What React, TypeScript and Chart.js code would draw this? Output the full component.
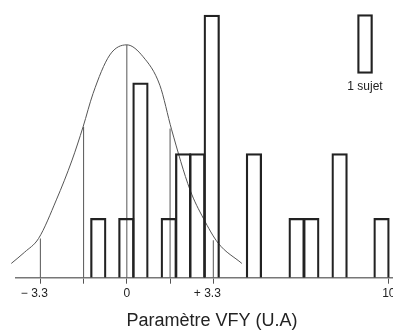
import React, { useEffect, useRef } from "react";
import { Chart, registerables } from "chart.js";

Chart.register(...registerables);

// Histogram bins: centres (U.A) and heights (in "sujet" units as drawn)
const binCenters = [-1.09, -0.02, 0.52, 1.6, 2.15, 2.69, 3.24, 4.85, 6.48, 7.04, 8.12, 9.72];
const binCounts = [1, 1, 3.28, 1, 2.09, 2.09, 4.42, 2.09, 1, 1, 2.09, 1];

// Reference normal curve
const curveX = [-4.41, -3.9, -3.37, -2.69, -2.09, -1.67, -1.29, -0.65, 0, 0.62, 1.26, 1.71, 2.41, 2.92, 3.49, 4.39];
const curveY = [0.24, 0.43, 0.66, 1.31, 1.98, 2.54, 3.1, 3.75, 3.92, 3.72, 3.24, 2.49, 1.48, 1.0, 0.58, 0.24];

// Vertical reference lines (mean, ±1.65, ±3.3) and their top on the curve
const refX = [-3.3, -1.65, 0, 1.65, 3.3];
const refTop = [0.66, 2.54, 3.92, 2.51, 0.63];

// Axis ticks
const tickValues = [-3.3, -1.65, 0, 1.65, 3.3, 10];
const tickLabels = ["\u2212 3.3\u2003", "", "0", "", "+ 3.3\u2003", "10"];

// Scale key box: "1 sujet"
const keyX = 9.09;
const keyRange = [3.44, 4.43];
const keyLabel = "1 sujet";

const xTitle = "Paramètre VFY (U.A)";

export default function App() {
  const ref = useRef<HTMLCanvasElement | null>(null);

  useEffect(() => {
    if (!ref.current) return;
    document.body.style.margin = "0";
    Chart.defaults.font.family = "'Liberation Sans', Arial, Helvetica, sans-serif";

    const keyPlugin = {
      id: "keyLabel",
      afterDatasetsDraw(chart: any) {
        const { ctx, scales } = chart;
        const x = scales.x.getPixelForValue(keyX);
        const y = scales.y.getPixelForValue(keyRange[0]);
        ctx.save();
        ctx.fillStyle = "#222";
        ctx.font = "12px 'Liberation Sans', Arial, sans-serif";
        ctx.textAlign = "center";
        ctx.textBaseline = "alphabetic";
        ctx.fillText(keyLabel, x, y + 17);
        ctx.restore();
      },
    };

    const refDatasets = refX.map((x, i) => ({
      type: "line" as const,
      data: [
        { x, y: 0 },
        { x, y: refTop[i] },
      ],
      borderColor: "#555",
      borderWidth: 1,
      pointRadius: 0,
      fill: false,
      order: 3,
    }));

    const chart = new Chart(ref.current, {
      type: "bar",
      data: {
        datasets: [
          {
            type: "bar",
            data: binCenters.map((x, i) => ({ x, y: binCounts[i] })),
            backgroundColor: "rgba(0,0,0,0)",
            borderColor: "#222",
            borderWidth: 1.6,
            barThickness: 15.6,
            grouped: false,
            order: 1,
          } as any,
          {
            type: "bar",
            data: [{ x: keyX, y: keyRange }],
            backgroundColor: "rgba(0,0,0,0)",
            borderColor: "#222",
            borderWidth: 1.6,
            borderSkipped: false,
            barThickness: 15,
            grouped: false,
            order: 1,
          } as any,
          {
            type: "line",
            data: curveX.map((x, i) => ({ x, y: curveY[i] })),
            borderColor: "#555",
            borderWidth: 1,
            pointRadius: 0,
            cubicInterpolationMode: "monotone",
            fill: false,
            clip: false,
            order: 2,
          } as any,
          ...refDatasets,
        ],
      },
      options: {
        animation: false,
        responsive: false,
        maintainAspectRatio: false,
        layout: { padding: { left: 16, top: 0, right: 0, bottom: 0 } },
        plugins: {
          legend: { display: false },
          tooltip: { enabled: false },
          title: { display: false },
        },
        scales: {
          x: {
            type: "linear",
            min: -4.23,
            max: 10.73,
            offset: false,
            afterBuildTicks: (scale: any) => {
              scale.ticks = tickValues.map((v) => ({ value: v }));
            },
            afterFit: (scale: any) => {
              scale.height = 55.3;
            },
            ticks: {
              autoSkip: false,
              maxRotation: 0,
              padding: 3,
              color: "#222",
              font: { size: 12 },
              callback: (_v: any, i: number) => tickLabels[i],
            },
            grid: {
              display: true,
              offset: false,
              drawOnChartArea: false,
              drawTicks: true,
              tickLength: 6,
              color: "#555",
              lineWidth: 1,
            },
            border: { display: true, color: "#777", width: 1.5 },
            title: {
              display: true,
              text: xTitle,
              color: "#222",
              font: { size: 18 },
              padding: { top: 0, bottom: 1 },
            },
          },
          y: {
            type: "linear",
            display: false,
            min: 0,
            max: 4.675,
          },
        },
      } as any,
      plugins: [keyPlugin],
    });

    return () => chart.destroy();
  }, []);

  return (
    <div style={{ position: "fixed", left: 0, top: 0, width: 393, height: 333, overflow: "hidden", background: "#fff" }}>
      <canvas ref={ref} width={408} height={333} style={{ width: 408, height: 333, display: "block" }} />
    </div>
  );
}
